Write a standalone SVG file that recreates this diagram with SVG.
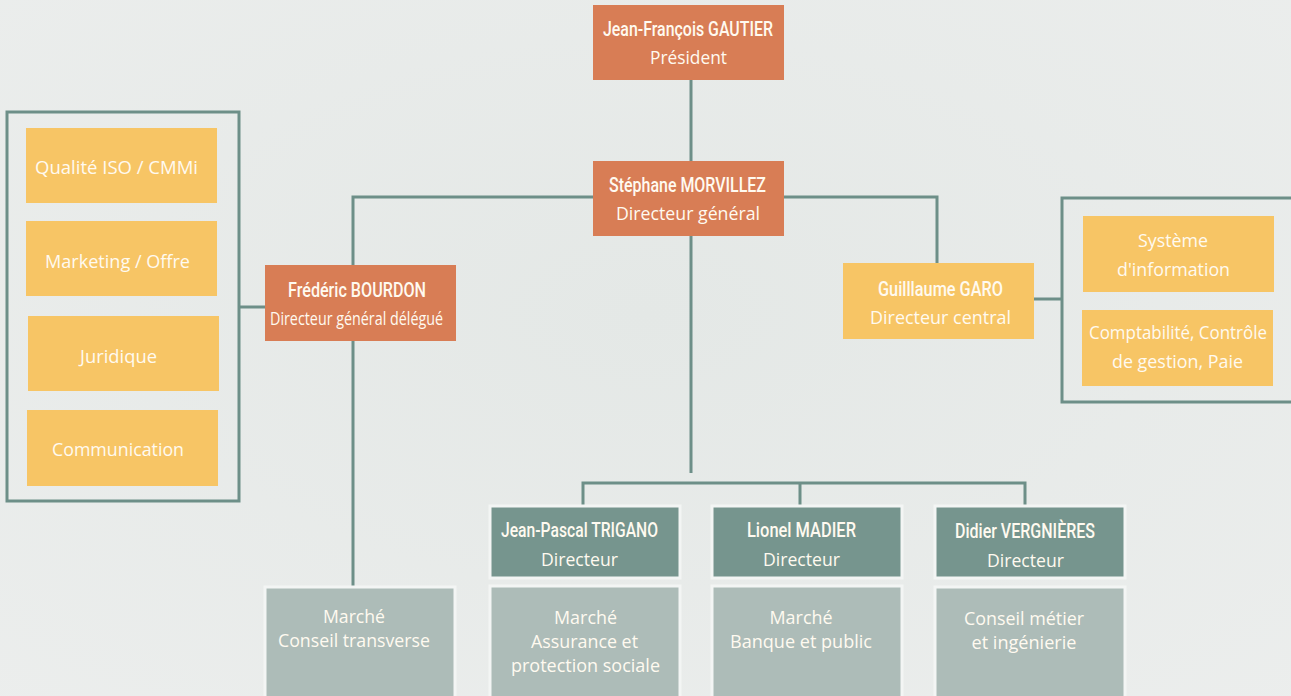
<svg xmlns="http://www.w3.org/2000/svg" width="1291" height="696" viewBox="0 0 1291 696">
<defs>
<radialGradient id="bg" cx="0.5" cy="0.45" r="0.8">
<stop offset="0" stop-color="#e4e8e6"/>
<stop offset="1" stop-color="#eceeed"/>
</radialGradient>
</defs>
<style>
.or{fill:#d87d55}
.ye{fill:#f7c565}
.te{fill:#76958e;stroke:#f3f5f4;stroke-width:3}
.gr{fill:#adbcb8;stroke:#f3f5f4;stroke-width:3}
.ln{fill:none;stroke:#6d8f88;stroke-width:3}
text{fill:#fffaf0;font-family:"Open Sans","Noto Sans",sans-serif;text-anchor:middle}
.b{font-family:"Roboto","Liberation Sans",sans-serif;font-weight:500;font-size:21px}
.r{font-size:19px}
</style>
<rect width="1291" height="696" fill="url(#bg)"/>

<g id="connectors">
<path class="ln" d="M691 80V161"/>
<path class="ln" d="M353 265V197H593M784 197H937V263"/>
<path class="ln" d="M353 341V587"/>
<path class="ln" d="M691 236V473"/>
<path class="ln" d="M583 507V483H1025V507M800 483V507"/>
<path class="ln" d="M239 307H265"/>
<path class="ln" d="M1034 299H1062"/>
<path class="ln" d="M239 112V501H7V112Z"/>
<path class="ln" d="M1300 198H1062V402H1300"/>
</g>

<g id="president">
<rect class="or" x="593" y="5" width="191" height="75"/>
<text class="b" x="688" y="36" textLength="170" lengthAdjust="spacingAndGlyphs">Jean-François GAUTIER</text>
<text class="r" x="688.5" y="64" textLength="77" lengthAdjust="spacingAndGlyphs">Président</text>
</g>

<g id="morvillez">
<rect class="or" x="593" y="161" width="191" height="75"/>
<text class="b" x="687.5" y="192" textLength="157" lengthAdjust="spacingAndGlyphs">Stéphane MORVILLEZ</text>
<text class="r" x="688" y="220" textLength="144" lengthAdjust="spacingAndGlyphs">Directeur général</text>
</g>

<g id="bourdon">
<rect class="or" x="265" y="265" width="191" height="76"/>
<text class="b" x="357" y="297" textLength="138" lengthAdjust="spacingAndGlyphs">Frédéric BOURDON</text>
<text class="r" x="356.5" y="325" textLength="173" lengthAdjust="spacingAndGlyphs">Directeur général délégué</text>
</g>

<g id="qualite">
<rect class="ye" x="26" y="128" width="191" height="75"/>
<text class="r" x="116.5" y="174" textLength="163" lengthAdjust="spacingAndGlyphs">Qualité ISO / CMMi</text>
</g>
<g id="marketing">
<rect class="ye" x="26" y="221" width="191" height="75"/>
<text class="r" x="117.5" y="268" textLength="145" lengthAdjust="spacingAndGlyphs">Marketing / Offre</text>
</g>
<g id="juridique">
<rect class="ye" x="28" y="316" width="191" height="75"/>
<text class="r" x="118.5" y="363" textLength="77" lengthAdjust="spacingAndGlyphs">Juridique</text>
</g>
<g id="communication">
<rect class="ye" x="27" y="410" width="191" height="76"/>
<text class="r" x="118" y="456" textLength="132" lengthAdjust="spacingAndGlyphs">Communication</text>
</g>

<g id="garo">
<rect class="ye" x="843" y="263" width="191" height="76"/>
<text class="b" x="940.5" y="296" textLength="125" lengthAdjust="spacingAndGlyphs">Guilllaume GARO</text>
<text class="r" x="940.5" y="324" textLength="141" lengthAdjust="spacingAndGlyphs">Directeur central</text>
</g>

<g id="systeme">
<rect class="ye" x="1083" y="216" width="191" height="76"/>
<text class="r" x="1173" y="247" textLength="70" lengthAdjust="spacingAndGlyphs">Système</text>
<text class="r" x="1173.5" y="276" textLength="113" lengthAdjust="spacingAndGlyphs">d'information</text>
</g>
<g id="comptabilite">
<rect class="ye" x="1082" y="310" width="191" height="76"/>
<text class="r" x="1178" y="339" textLength="178" lengthAdjust="spacingAndGlyphs">Comptabilité, Contrôle</text>
<text class="r" x="1177.5" y="368" textLength="131" lengthAdjust="spacingAndGlyphs">de gestion, Paie</text>
</g>

<g id="trigano">
<rect class="te" x="490" y="506" width="190" height="72"/>
<text class="b" x="579.5" y="537" textLength="157" lengthAdjust="spacingAndGlyphs">Jean-Pascal TRIGANO</text>
<text class="r" x="579.5" y="566" textLength="77" lengthAdjust="spacingAndGlyphs">Directeur</text>
</g>
<g id="madier">
<rect class="te" x="712" y="506" width="190" height="72"/>
<text class="b" x="801.5" y="537" textLength="109" lengthAdjust="spacingAndGlyphs">Lionel MADIER</text>
<text class="r" x="801.5" y="566" textLength="77" lengthAdjust="spacingAndGlyphs">Directeur</text>
</g>
<g id="vergnieres">
<rect class="te" x="935" y="506" width="190" height="72"/>
<text class="b" x="1025" y="538" textLength="140" lengthAdjust="spacingAndGlyphs">Didier VERGNIÈRES</text>
<text class="r" x="1025.5" y="567" textLength="77" lengthAdjust="spacingAndGlyphs">Directeur</text>
</g>

<g id="conseil-transverse">
<rect class="gr" x="265" y="587" width="190" height="115"/>
<text class="r" x="354" y="623" textLength="62" lengthAdjust="spacingAndGlyphs">Marché</text>
<text class="r" x="354" y="647" textLength="152" lengthAdjust="spacingAndGlyphs">Conseil transverse</text>
</g>
<g id="assurance">
<rect class="gr" x="490" y="586" width="190" height="116"/>
<text class="r" x="585.5" y="624" textLength="63" lengthAdjust="spacingAndGlyphs">Marché</text>
<text class="r" x="584.5" y="648" textLength="107" lengthAdjust="spacingAndGlyphs">Assurance et</text>
<text class="r" x="585.5" y="672" textLength="149" lengthAdjust="spacingAndGlyphs">protection sociale</text>
</g>
<g id="banque">
<rect class="gr" x="712" y="586" width="190" height="116"/>
<text class="r" x="801" y="624" textLength="63" lengthAdjust="spacingAndGlyphs">Marché</text>
<text class="r" x="801" y="648" textLength="142" lengthAdjust="spacingAndGlyphs">Banque et public</text>
</g>
<g id="conseil-metier">
<rect class="gr" x="935" y="587" width="190" height="115"/>
<text class="r" x="1024" y="625" textLength="120" lengthAdjust="spacingAndGlyphs">Conseil métier</text>
<text class="r" x="1024" y="649" textLength="105" lengthAdjust="spacingAndGlyphs">et ingénierie</text>
</g>
</svg>
